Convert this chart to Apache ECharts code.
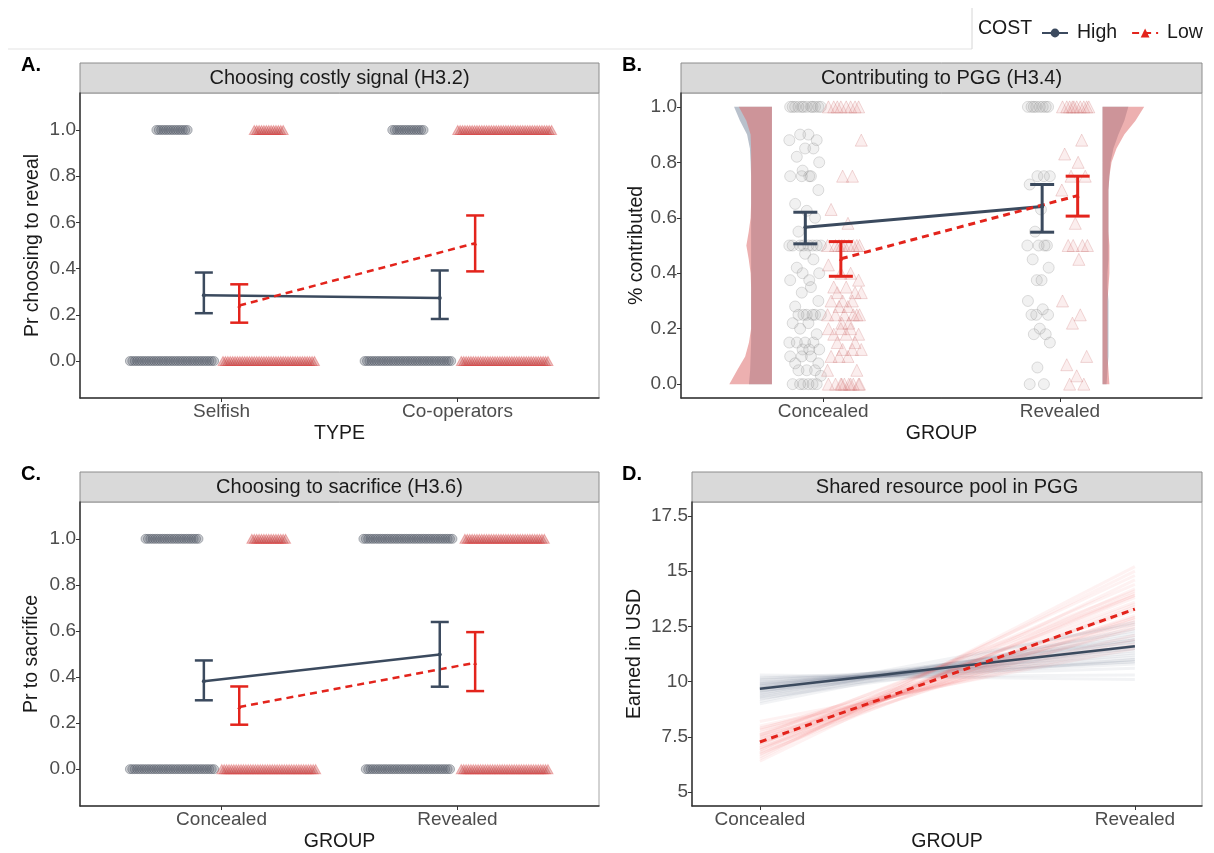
<!DOCTYPE html>
<html>
<head>
<meta charset="utf-8">
<script src="https://cdn.jsdelivr.net/npm/echarts@6/dist/echarts.min.js"></script>
<style>
html, body { margin: 0; padding: 0; background: #fff; }
#main { width: 1214px; height: 853px; }
</style>
</head>
<body>
<div id="main"></div>
<script>
var typeLabels = ['Selfish', 'Co-operators'];
var groupLabels = ['Concealed', 'Revealed'];

// A. choosing costly signal : how many answered 0 / 1, per TYPE
var signalHighZero = [36, 37];
var signalHighOne = [14, 14];
var signalLowZero = [39, 37];
var signalLowOne = [13, 40];
var signalHighMean = [0.285, 0.273];
var signalHighLo = [0.207, 0.182];
var signalHighHi = [0.383, 0.392];
var signalLowMean = [0.240, 0.510];
var signalLowLo = [0.166, 0.388];
var signalLowHi = [0.332, 0.630];

// B. contributing to PGG : [share contributed, number of players]
var contribHighConcealed = [[1, 12], [0.9, 2], [0.88, 2], [0.85, 2], [0.82, 1], [0.8, 1], [0.77, 1], [0.75, 4], [0.7, 1], [0.65, 1], [0.625, 1], [0.6, 1], [0.55, 1], [0.5, 8], [0.47, 1], [0.45, 1], [0.42, 1], [0.4, 2], [0.375, 2], [0.35, 1], [0.33, 1], [0.3, 1], [0.28, 1], [0.25, 6], [0.22, 2], [0.2, 1], [0.18, 1], [0.15, 4], [0.125, 3], [0.1, 3], [0.075, 2], [0.05, 3], [0.03, 1], [0, 6]];
var contribLowConcealed = [[1, 8], [0.88, 1], [0.75, 2], [0.63, 1], [0.58, 1], [0.5, 9], [0.43, 1], [0.4, 2], [0.375, 1], [0.35, 2], [0.33, 3], [0.3, 3], [0.28, 2], [0.25, 6], [0.22, 2], [0.2, 3], [0.18, 3], [0.15, 2], [0.125, 3], [0.1, 3], [0.05, 2], [0, 10]];
var contribHighRevealed = [[1, 8], [0.75, 3], [0.72, 1], [0.63, 1], [0.55, 1], [0.5, 4], [0.45, 1], [0.42, 1], [0.375, 2], [0.3, 1], [0.27, 1], [0.25, 3], [0.2, 1], [0.18, 2], [0.15, 1], [0.06, 1], [0, 2]];
var contribLowRevealed = [[1, 10], [0.88, 1], [0.83, 1], [0.8, 1], [0.75, 2], [0.7, 1], [0.58, 1], [0.5, 4], [0.45, 1], [0.3, 1], [0.25, 1], [0.22, 1], [0.1, 1], [0.07, 1], [0.03, 1], [0, 2]];
var contribHighMean = [0.566, 0.641];
var contribHighLo = [0.506, 0.548];
var contribHighHi = [0.620, 0.720];
var contribLowMean = [0.452, 0.680];
var contribLowLo = [0.389, 0.606];
var contribLowHi = [0.514, 0.750];

// B. half violins : density read at these levels
var densY = [0, 0.05, 0.1, 0.15, 0.2, 0.25, 0.3, 0.35, 0.4, 0.45, 0.5, 0.55, 0.6, 0.65, 0.7, 0.75, 0.8, 0.85, 0.9, 0.95, 1];
var densHighConcealed = [0.97, 0.92, 0.9, 0.88, 0.88, 0.88, 0.88, 0.88, 0.88, 0.88, 0.88, 0.88, 0.88, 0.88, 0.88, 0.88, 0.9, 0.93, 1.05, 1.35, 1.6];
var densLowConcealed = [1.8, 1.47, 1.13, 0.97, 0.88, 0.88, 0.88, 0.88, 0.9, 0.98, 1.08, 0.98, 0.9, 0.88, 0.88, 0.88, 0.88, 0.88, 0.9, 1.08, 1.4];
var densHighRevealed = [0.17, 0.21, 0.25, 0.25, 0.25, 0.25, 0.25, 0.21, 0.21, 0.25, 0.25, 0.25, 0.25, 0.25, 0.25, 0.29, 0.34, 0.46, 0.67, 0.92, 1.09];
var densLowRevealed = [0.29, 0.25, 0.21, 0.21, 0.21, 0.21, 0.21, 0.25, 0.29, 0.29, 0.29, 0.25, 0.25, 0.25, 0.25, 0.29, 0.38, 0.59, 0.92, 1.39, 1.76];

// C. choosing to sacrifice : how many answered 0 / 1, per GROUP
var sacHighZero = [36, 36];
var sacHighOne = [23, 38];
var sacLowZero = [40, 37];
var sacLowOne = [15, 34];
var sacHighMean = [0.382, 0.498];
var sacHighLo = [0.299, 0.358];
var sacHighHi = [0.472, 0.639];
var sacLowMean = [0.270, 0.462];
var sacLowLo = [0.193, 0.339];
var sacLowHi = [0.359, 0.595];

// D. shared resource pool : model means and posterior draws [Concealed, Revealed]
var poolHighMean = [9.68, 11.6];
var poolLowMean = [7.27, 13.28];
var poolHighDraws = [[9.0, 12.4], [9.2, 12.1], [9.3, 12.3], [9.4, 11.9], [9.5, 11.8], [9.55, 12.0], [9.6, 11.5], [9.65, 11.7], [9.7, 11.4], [9.75, 11.6], [9.8, 11.2], [9.85, 11.3], [9.9, 11.0], [9.95, 10.9], [10.0, 10.8], [10.1, 10.6], [10.2, 10.3], [9.45, 12.6], [9.6, 11.0], [9.8, 11.8], [10.3, 10.1], [9.1, 12.7], [9.35, 12.2], [9.7, 11.9], [9.9, 11.5], [10.05, 11.1], [9.25, 11.6], [10.15, 10.9]];
var poolLowDraws = [[6.4, 14.6], [6.6, 15.0], [6.7, 14.2], [6.8, 14.0], [6.9, 13.9], [7.0, 13.5], [7.1, 13.8], [7.2, 13.3], [7.3, 13.0], [7.35, 13.6], [7.4, 12.8], [7.5, 12.6], [7.6, 12.4], [7.7, 12.7], [7.8, 12.1], [7.9, 11.9], [8.0, 11.7], [8.2, 11.5], [6.5, 15.2], [7.0, 12.9], [7.6, 13.9], [6.9, 14.8], [7.15, 14.4], [7.45, 13.2], [7.25, 12.5], [6.75, 13.4], [7.85, 12.9], [7.55, 14.1]];

var probTicks = [0, 0.2, 0.4, 0.6, 0.8, 1];
var poolTicks = [5, 7.5, 10, 12.5, 15, 17.5];

var navy = '#3b4a5e';
var red = '#e3241c';
var font = 'Liberation Sans, Arial, Helvetica, sans-serif';
var jitterPattern = [-0.9, 0.35, -0.2, 0.8, -0.6, 0.1, 0.6, -0.4, 0.95, -0.1, 0.45, -0.75, 0.2, -0.3, 0.7, -0.95, 0.0, 0.5, -0.5, 0.85, -0.15, 0.25];

var chart = echarts.init(document.getElementById('main'));

function stackRows(zero, one, shift) {
    var pts = [];
    var step = 0.0102;
    for (var i = 0; i < 2; i++) {
        [[0, zero[i]], [1, one[i]]].forEach(function (r) {
            var n = r[1];
            for (var k = 0; k < n; k++) pts.push([i + 1 + shift + (k - (n - 1) / 2) * step, r[0]]);
        });
    }
    return pts;
}

function jittered(rows, center, spread) {
    var pts = [], j = 0;
    rows.forEach(function (r) {
        for (var k = 0; k < r[1]; k++) {
            pts.push([center + jitterPattern[j % jitterPattern.length] * spread, r[0]]);
            j++;
        }
    });
    return pts;
}

function dots(gi, data, symbol, size, fill, border) {
    return {
        type: 'scatter', xAxisIndex: gi, yAxisIndex: gi, data: data, symbol: symbol, symbolSize: size,
        itemStyle: { color: fill, borderColor: border, borderWidth: 1 }, silent: true, z: 2
    };
}

function errorBars(gi, lo, hi, shift, color, cap, width) {
    var data = lo.map(function (l, i) { return [i + 1 + shift, l, hi[i]]; });
    return {
        type: 'custom', xAxisIndex: gi, yAxisIndex: gi, data: data, silent: true, z: 5,
        encode: { x: 0, y: [1, 2] },
        renderItem: function (params, api) {
            var x = api.value(0);
            var a = api.coord([x, api.value(1)]);
            var b = api.coord([x, api.value(2)]);
            var st = { stroke: color, lineWidth: width };
            return {
                type: 'group', children: [
                    { type: 'line', shape: { x1: a[0], y1: a[1], x2: b[0], y2: b[1] }, style: st },
                    { type: 'line', shape: { x1: a[0] - cap, y1: a[1], x2: a[0] + cap, y2: a[1] }, style: st },
                    { type: 'line', shape: { x1: b[0] - cap, y1: b[1], x2: b[0] + cap, y2: b[1] }, style: st }
                ]
            };
        }
    };
}

function meanLine(gi, name, mean, shift, color, dashed, symbol, width) {
    return {
        type: 'line', name: name, xAxisIndex: gi, yAxisIndex: gi,
        data: mean.map(function (m, i) { return [i + 1 + shift, m]; }),
        symbol: symbol, symbolSize: 4, showSymbol: true, silent: true, z: 4,
        lineStyle: { color: color, width: width, type: dashed ? [7, 5] : 'solid' },
        itemStyle: { color: color }
    };
}

function violin(gi, cat, edge, dir, widths, color) {
    return {
        type: 'custom', xAxisIndex: gi, yAxisIndex: gi, data: [[cat, 0]], silent: true, z: 1,
        renderItem: function (params, api) {
            var pts = [];
            for (var i = 0; i < densY.length; i++) pts.push(api.coord([cat + edge + dir * widths[i] * 0.1, densY[i]]));
            pts.push(api.coord([cat + edge, 1]));
            pts.push(api.coord([cat + edge, 0]));
            return { type: 'polygon', shape: { points: pts }, style: { fill: color } };
        }
    };
}

function fan(gi, draws, color) {
    return {
        type: 'custom', xAxisIndex: gi, yAxisIndex: gi, data: draws, silent: true, z: 1,
        renderItem: function (params, api) {
            var a = api.coord([1, api.value(0)]);
            var b = api.coord([2, api.value(1)]);
            return { type: 'line', shape: { x1: a[0], y1: a[1], x2: b[0], y2: b[1] }, style: { stroke: color, lineWidth: 3 } };
        }
    };
}

function xAxisOf(gi, min, max, labels, name) {
    return {
        gridIndex: gi, type: 'value', min: min, max: max, name: name, nameLocation: 'middle', nameGap: 26,
        nameTextStyle: { fontSize: 19.5, color: '#1a1a1a', fontFamily: font },
        axisLine: { onZero: false, lineStyle: { color: '#333', width: 1.5 } },
        axisTick: { customValues: [1, 2], length: 4, lineStyle: { color: '#333' } },
        axisLabel: { customValues: [1, 2], formatter: function (v) { return labels[Math.round(v) - 1]; }, fontSize: 19, color: '#4d4d4d', fontFamily: font, margin: 4 },
        splitLine: { show: false }
    };
}

function yAxisOf(gi, min, max, ticks, name, fmt, gap) {
    return {
        gridIndex: gi, type: 'value', min: min, max: max, name: name, nameLocation: 'middle', nameGap: gap,
        nameTextStyle: { fontSize: 19.5, color: '#1a1a1a', fontFamily: font },
        axisLine: { show: true, onZero: false, lineStyle: { color: '#333', width: 1.5 } },
        axisTick: { show: true, customValues: ticks, length: 4, lineStyle: { color: '#333' } },
        axisLabel: { customValues: ticks, formatter: fmt, fontSize: 19, color: '#4d4d4d', fontFamily: font, margin: 4 },
        splitLine: { show: false }
    };
}

var panels = [
    { x: 80, y: 63, w: 519, letter: 'A.', title: 'Choosing costly signal (H3.2)' },
    { x: 681, y: 63, w: 521, letter: 'B.', title: 'Contributing to PGG (H3.4)' },
    { x: 80, y: 472, w: 519, letter: 'C.', title: 'Choosing to sacrifice (H3.6)' },
    { x: 692, y: 472, w: 510, letter: 'D.', title: 'Shared resource pool in PGG' }
];

var graphics = [];
panels.forEach(function (p) {
    graphics.push({ type: 'rect', shape: { x: p.x, y: p.y, width: p.w, height: 30 }, style: { fill: '#d9d9d9', stroke: '#8c8c8c', lineWidth: 1 } });
    graphics.push({ type: 'text', x: p.x + p.w / 2, y: p.y + 15, style: { text: p.title, fontSize: 20, fill: '#1a1a1a', fontFamily: font, align: 'center', verticalAlign: 'middle' } });
    graphics.push({ type: 'text', x: p.x < 300 ? 21 : 622, y: p.y + 2, style: { text: p.letter, fontSize: 20, fontWeight: 'bold', fill: '#000', fontFamily: font, align: 'left', verticalAlign: 'middle' } });
});
graphics.push({ type: 'line', shape: { x1: 8, y1: 49, x2: 972, y2: 49 }, style: { stroke: '#e3e3e3', lineWidth: 1 } });
graphics.push({ type: 'line', shape: { x1: 972, y1: 8, x2: 972, y2: 49 }, style: { stroke: '#d6d6d6', lineWidth: 1 } });
graphics.push({ type: 'text', x: 978, y: 29, style: { text: 'COST', fontSize: 19.5, fill: '#1a1a1a', fontFamily: font, verticalAlign: 'middle' } });

var oneDec = function (v) { return v.toFixed(1); };
var plain = function (v) { return String(v); };

var circleFill = 'rgba(88,95,107,0.38)';
var circleLine = 'rgba(75,82,94,0.5)';
var triFill = 'rgba(190,70,70,0.4)';
var triLine = 'rgba(220,70,70,0.5)';

var option = {
    animation: false,
    backgroundColor: '#fff',
    textStyle: { fontFamily: font },
    legend: {
        data: ['High', 'Low'], left: 1036, top: 18, itemGap: 14, itemWidth: 26, itemHeight: 11,
        textStyle: { fontSize: 19.5, color: '#1a1a1a', fontFamily: font, padding: [0, 0, 0, 4] }, selectedMode: false
    },
    graphic: graphics,
    grid: [
        { left: 80, top: 93, width: 519, height: 305, show: true, borderColor: '#a6a6a6', borderWidth: 1 },
        { left: 681, top: 93, width: 521, height: 305, show: true, borderColor: '#a6a6a6', borderWidth: 1 },
        { left: 80, top: 502, width: 519, height: 305, show: true, borderColor: '#a6a6a6', borderWidth: 1 },
        { left: 692, top: 502, width: 510, height: 305, show: true, borderColor: '#a6a6a6', borderWidth: 1 }
    ],
    xAxis: [
        xAxisOf(0, 0.4, 2.6, typeLabels, 'TYPE'),
        xAxisOf(1, 0.4, 2.6, groupLabels, 'GROUP'),
        xAxisOf(2, 0.4, 2.6, groupLabels, 'GROUP'),
        xAxisOf(3, 0.819, 2.179, groupLabels, 'GROUP')
    ],
    yAxis: [
        yAxisOf(0, -0.16, 1.16, probTicks, 'Pr choosing to reveal', oneDec, 37),
        yAxisOf(1, -0.05, 1.05, probTicks, '% contributed', oneDec, 33),
        yAxisOf(2, -0.16, 1.16, probTicks, 'Pr to sacrifice', oneDec, 38),
        yAxisOf(3, 4.375, 18.125, poolTicks, 'Earned in USD', plain, 47)
    ],
    series: [
        // A
        meanLine(0, 'High', signalHighMean, -0.075, navy, false, 'circle', 2.5),
        meanLine(0, 'Low', signalLowMean, 0.075, red, true, 'triangle', 2.5),
        dots(0, stackRows(signalHighZero, signalHighOne, -0.21), 'circle', 9, circleFill, circleLine),
        dots(0, stackRows(signalLowZero, signalLowOne, 0.2), 'triangle', [10, 9], triFill, triLine),
        errorBars(0, signalHighLo, signalHighHi, -0.075, navy, 9, 2.5),
        errorBars(0, signalLowLo, signalLowHi, 0.075, red, 9, 2.5),
        // B
        violin(1, 1, -0.216, -1, densHighConcealed, 'rgba(165,176,190,0.78)'),
        violin(1, 1, -0.216, -1, densLowConcealed, 'rgba(222,112,112,0.55)'),
        violin(1, 2, 0.18, 1, densHighRevealed, 'rgba(165,176,190,0.78)'),
        violin(1, 2, 0.18, 1, densLowRevealed, 'rgba(222,112,112,0.55)'),
        dots(1, jittered(contribHighConcealed, 0.924, 0.07), 'circle', 11, 'rgba(170,170,170,0.2)', 'rgba(110,110,110,0.28)'),
        dots(1, jittered(contribLowConcealed, 1.09, 0.075), 'triangle', 12, 'rgba(230,150,150,0.2)', 'rgba(200,110,110,0.32)'),
        dots(1, jittered(contribHighRevealed, 1.91, 0.05), 'circle', 11, 'rgba(170,170,170,0.2)', 'rgba(110,110,110,0.28)'),
        dots(1, jittered(contribLowRevealed, 2.065, 0.06), 'triangle', 12, 'rgba(230,150,150,0.2)', 'rgba(200,110,110,0.32)'),
        meanLine(1, 'High', contribHighMean, -0.075, navy, false, 'circle', 3),
        meanLine(1, 'Low', contribLowMean, 0.075, red, true, 'triangle', 3),
        errorBars(1, contribHighLo, contribHighHi, -0.075, navy, 12, 3),
        errorBars(1, contribLowLo, contribLowHi, 0.075, red, 12, 3),
        // C
        dots(2, stackRows(sacHighZero, sacHighOne, -0.21), 'circle', 9, circleFill, circleLine),
        dots(2, stackRows(sacLowZero, sacLowOne, 0.2), 'triangle', [10, 9], triFill, triLine),
        meanLine(2, 'High', sacHighMean, -0.075, navy, false, 'circle', 2.5),
        meanLine(2, 'Low', sacLowMean, 0.075, red, true, 'triangle', 2.5),
        errorBars(2, sacHighLo, sacHighHi, -0.075, navy, 9, 2.5),
        errorBars(2, sacLowLo, sacLowHi, 0.075, red, 9, 2.5),
        // D
        fan(3, poolHighDraws, 'rgba(70,90,120,0.07)'),
        fan(3, poolLowDraws, 'rgba(235,70,70,0.07)'),
        meanLine(3, 'High', poolHighMean, 0, navy, false, 'none', 2.5),
        meanLine(3, 'Low', poolLowMean, 0, red, true, 'none', 3)
    ]
};

chart.setOption(option);
</script>
</body>
</html>
